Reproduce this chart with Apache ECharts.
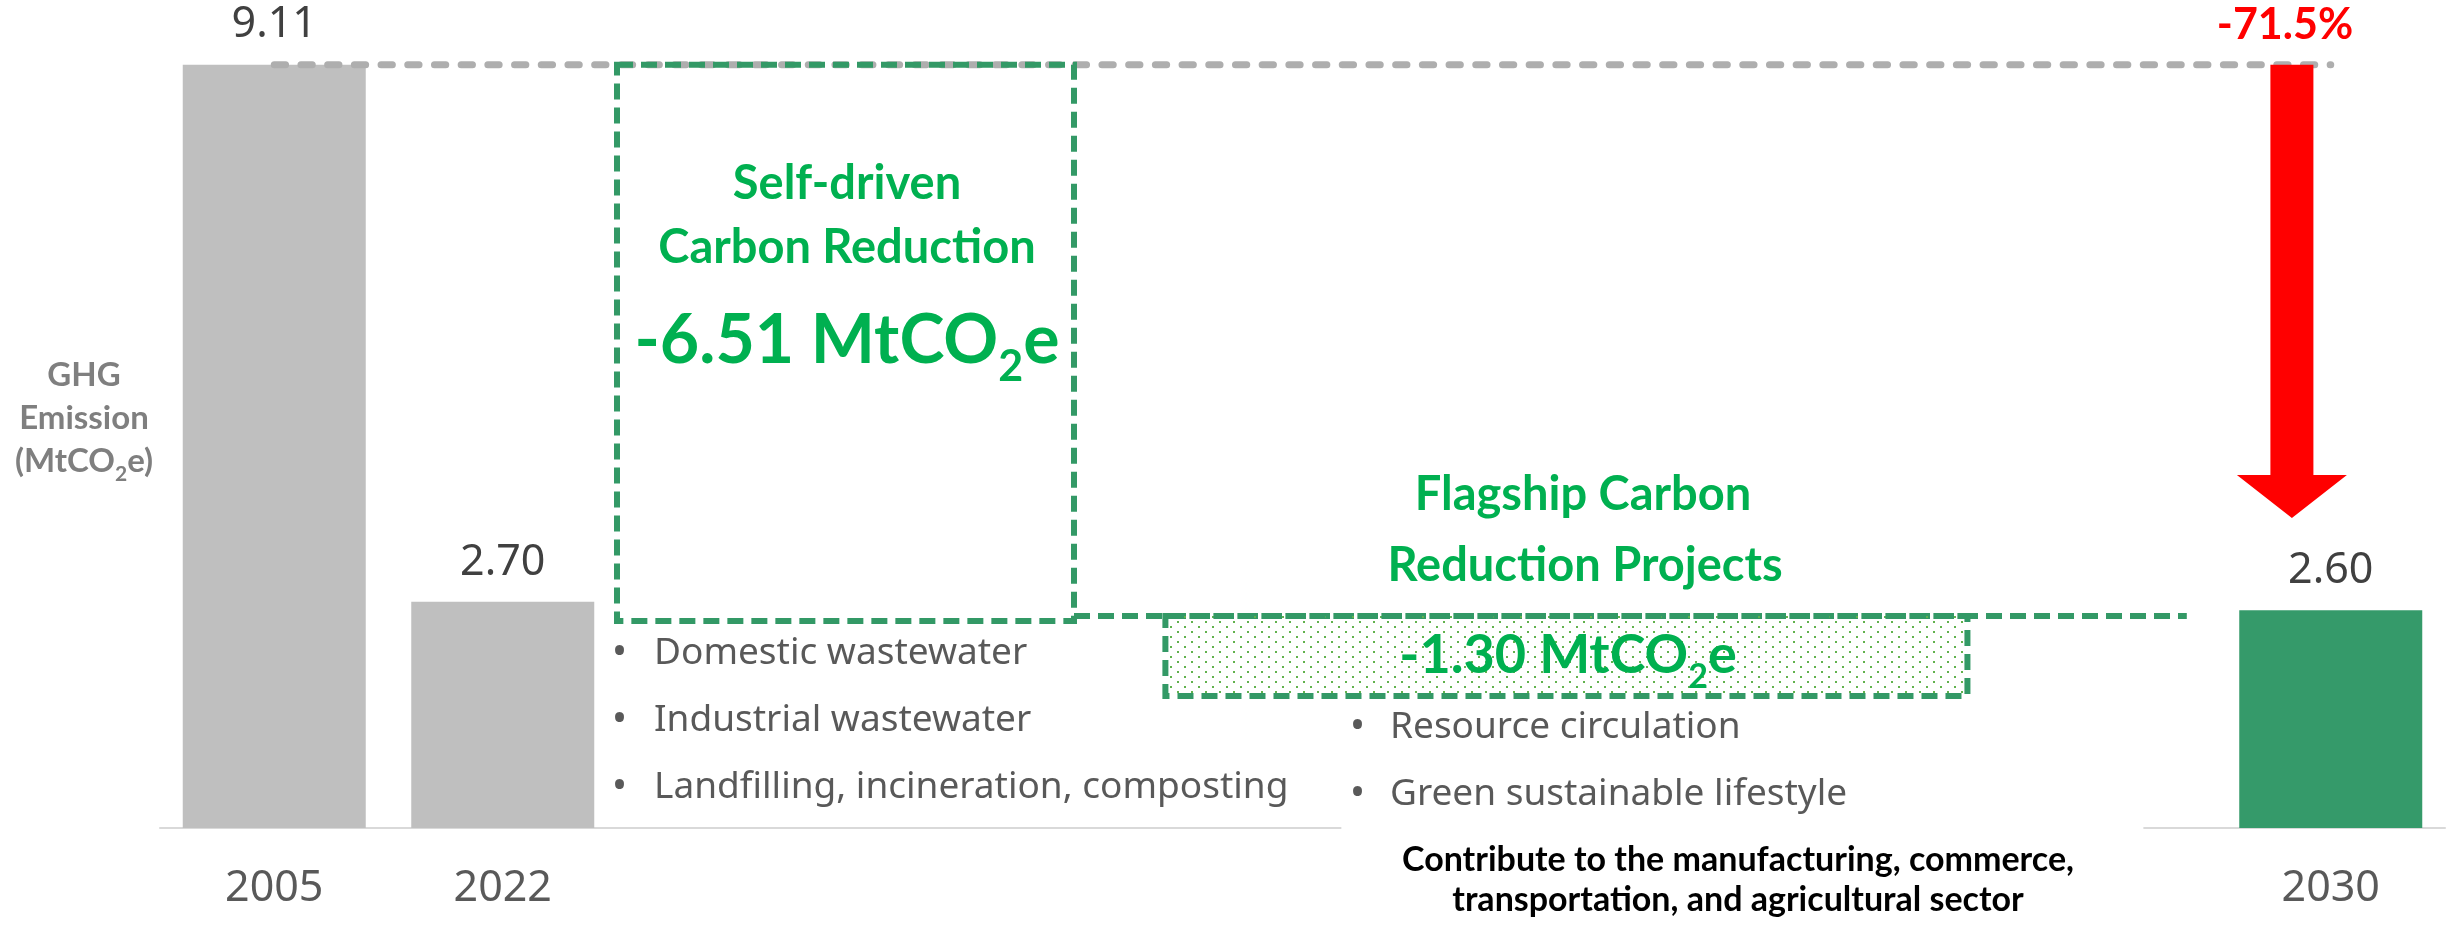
<!DOCTYPE html>
<html>
<head>
<meta charset="utf-8">
<script src="https://cdn.jsdelivr.net/npm/echarts@6/dist/echarts.min.js"></script>
<style>
  html, body { margin: 0; padding: 0; background: #fff; }
  #chart { width: 2446px; height: 927px; }
</style>
</head>
<body>
<div id="chart"></div>
<script>
// bars (empty slots keep the spacing of the original slide)
const years = ['2005', '2022', '', '', '', '', '', '', '', '2030'];
const emissions = [9.11, 2.70, '-', '-', '-', '-', '-', '-', '-', 2.60];
const barColors = ['#bfbfbf', '#bfbfbf', '', '', '', '', '', '', '', '#359a6a'];

const selfDrivenCut = '-6.51 ';
const flagshipCut = '-1.30 ';
const totalCut = '-71.5%';
const selfDrivenItems = ['Domestic wastewater', 'Industrial wastewater', 'Landfilling, incineration, composting'];
const flagshipItems = ['Resource circulation', 'Green sustainable lifestyle'];
const sectorNote = ['Contribute to the manufacturing, commerce,', 'transportation, and agricultural sector'];

// annotation shapes: x in bar slots (0 = 2005 ... 9 = 2030), y in MtCO2e
const refLine = { x: [0, 9], y: 9.11 };
const selfBox = { x: [1.5, 3.5], y: [2.47, 9.11] };
const linkLine = { x: [3.5, 8.37], y: 2.53 };
const flagBox = { x: [3.9, 7.41], y: [1.575, 2.53] };
const arrow = { x: 8.83, y: [9.11, 3.70] };
const noteMask = { x: [4.67, 8.18], y: [-1.2, 1.5] };

const chart = echarts.init(document.getElementById('chart'));

chart.setOption({
  animation: false,
  grid: { left: 160, right: 1, top: 32, bottom: 99 },
  xAxis: [{
    type: 'category',
    data: years,
    axisLine: { lineStyle: { color: '#d9d9d9', width: 2 } },
    axisTick: { show: false },
    axisLabel: { interval: 0, color: '#595959', fontFamily: 'Noto Sans', fontSize: 43, margin: 39 }
  }, {
    type: 'value', min: -0.5, max: 9.5, show: false
  }],
  yAxis: { type: 'value', min: 0, max: 9.5, show: false },
  series: [{
    type: 'bar',
    barWidth: 183,
    data: emissions.map((v, i) => ({ value: v, itemStyle: { color: barColors[i] } })),
    label: {
      show: true, position: 'top', distance: 18,
      color: '#404040', fontFamily: 'Noto Sans', fontSize: 43,
      formatter: p => (typeof p.value === 'number' ? p.value.toFixed(2) : '')
    }
  }]
});

const px = v => chart.convertToPixel({ xAxisIndex: 1 }, v);
const py = v => chart.convertToPixel({ yAxisIndex: 0 }, v);

function boxShape(b) {
  const x0 = px(b.x[0]), x1 = px(b.x[1]), y0 = py(b.y[1]), y1 = py(b.y[0]);
  return { x: x0, y: y0, width: x1 - x0, height: y1 - y0 };
}

// dotted fill like the office pattern
const dots = document.createElement('canvas');
dots.width = 14; dots.height = 10;
const dctx = dots.getContext('2d');
dctx.fillStyle = '#62b24e';
dctx.fillRect(1, 1, 2, 2);
dctx.fillRect(8, 6, 2, 2);

const GREEN = '#00b050';
const BOX = '#339966';

function text(x, y, str, size, opts) {
  return {
    type: 'text', z: 100,
    style: Object.assign({
      x: x, y: y, text: str, fontSize: size, fontFamily: 'Lato',
      align: 'center', verticalAlign: 'middle'
    }, opts)
  };
}

// text with a subscript 2 in "MtCO2e"; the tall main line box lets the 2 sit lower
function co2Text(x, y, before, after, size, color) {
  const m = { fontSize: size, fontFamily: 'Lato', fontWeight: 'bold', fill: color, lineHeight: size * 1.21, verticalAlign: 'top' };
  const s = { fontSize: Math.round(size * 0.63), fontFamily: 'Lato', fontWeight: 'bold', fill: color, verticalAlign: 'bottom' };
  return {
    type: 'text', z: 100,
    style: {
      x: x, y: y + size * 0.105,
      text: '{m|' + before + 'MtCO}{s|2}{m|e' + after + '}',
      rich: { m: m, s: s }, align: 'center', verticalAlign: 'middle'
    }
  };
}

const g = [];

// white text box hiding part of the axis
g.push({ type: 'rect', z: 50, shape: boxShape(noteMask), style: { fill: '#fff' } });

g.push({
  type: 'line', z: 60,
  shape: { x1: px(refLine.x[0]), y1: py(refLine.y), x2: px(refLine.x[1]), y2: py(refLine.y) },
  style: { stroke: '#aeaeae', lineWidth: 7, lineDash: [11.3, 15.4], lineCap: 'round' }
});

g.push({ type: 'rect', z: 61, shape: boxShape(selfBox), style: { fill: null, stroke: BOX, lineWidth: 6, lineDash: [16, 8] } });

g.push({
  type: 'line', z: 61,
  shape: { x1: px(linkLine.x[0]), y1: py(linkLine.y), x2: px(linkLine.x[1]), y2: py(linkLine.y) },
  style: { stroke: BOX, lineWidth: 6, lineDash: [16, 8] }
});

g.push({ type: 'rect', z: 61, shape: boxShape(flagBox), style: { fill: { image: dots, repeat: 'repeat' }, stroke: BOX, lineWidth: 6, lineDash: [16, 8] } });

// red arrow
const ax = px(arrow.x), aTop = py(arrow.y[0]), aTip = py(arrow.y[1]);
const shaftW = 43, headW = 110, headH = 43;
g.push({
  type: 'polygon', z: 62,
  shape: {
    points: [
      [ax - shaftW / 2, aTop], [ax + shaftW / 2, aTop], [ax + shaftW / 2, aTip - headH],
      [ax + headW / 2, aTip - headH], [ax, aTip], [ax - headW / 2, aTip - headH], [ax - shaftW / 2, aTip - headH]
    ]
  },
  style: { fill: '#ff0000' }
});
g.push(text(2285, 25.4, totalCut, 43, { fill: '#ff0000', fontWeight: 'bold' }));

// y title
g.push(text(84, 375, 'GHG', 33, { fill: '#7f7f7f', fontWeight: 'bold' }));
g.push(text(84, 418, 'Emission', 33, { fill: '#7f7f7f', fontWeight: 'bold' }));
g.push(co2Text(84, 461, '(', ')', 33, '#7f7f7f'));

// self-driven block
g.push(text(847, 183.8, 'Self-driven', 47, { fill: GREEN, fontWeight: 'bold' }));
g.push(text(847, 247.8, 'Carbon Reduction', 47, { fill: GREEN, fontWeight: 'bold' }));
g.push(co2Text(847, 340.7, selfDrivenCut, '', 68, GREEN));

// flagship block
g.push(text(1583, 495, 'Flagship Carbon', 47, { fill: GREEN, fontWeight: 'bold' }));
g.push(text(1585, 566, 'Reduction Projects', 47, { fill: GREEN, fontWeight: 'bold' }));
g.push(co2Text(1568, 656, flagshipCut, '', 54, GREEN));

// bullet lists
const bulletStyle = { fill: '#595959', fontFamily: 'Noto Sans', align: 'left' };
selfDrivenItems.forEach((s, i) => {
  const y = 653.6 + i * 67;
  g.push(text(612, y, '•', 40, bulletStyle));
  g.push(text(654, y, s, 37, bulletStyle));
});
flagshipItems.forEach((s, i) => {
  const y = 727.6 + i * 67;
  g.push(text(1350, y, '•', 40, bulletStyle));
  g.push(text(1390, y, s, 37, bulletStyle));
});

sectorNote.forEach((s, i) => {
  g.push(text(1738, 859.8 + i * 40, s, 34, { fill: '#000', fontWeight: 'bold' }));
});

chart.setOption({ graphic: g });
</script>
</body>
</html>
